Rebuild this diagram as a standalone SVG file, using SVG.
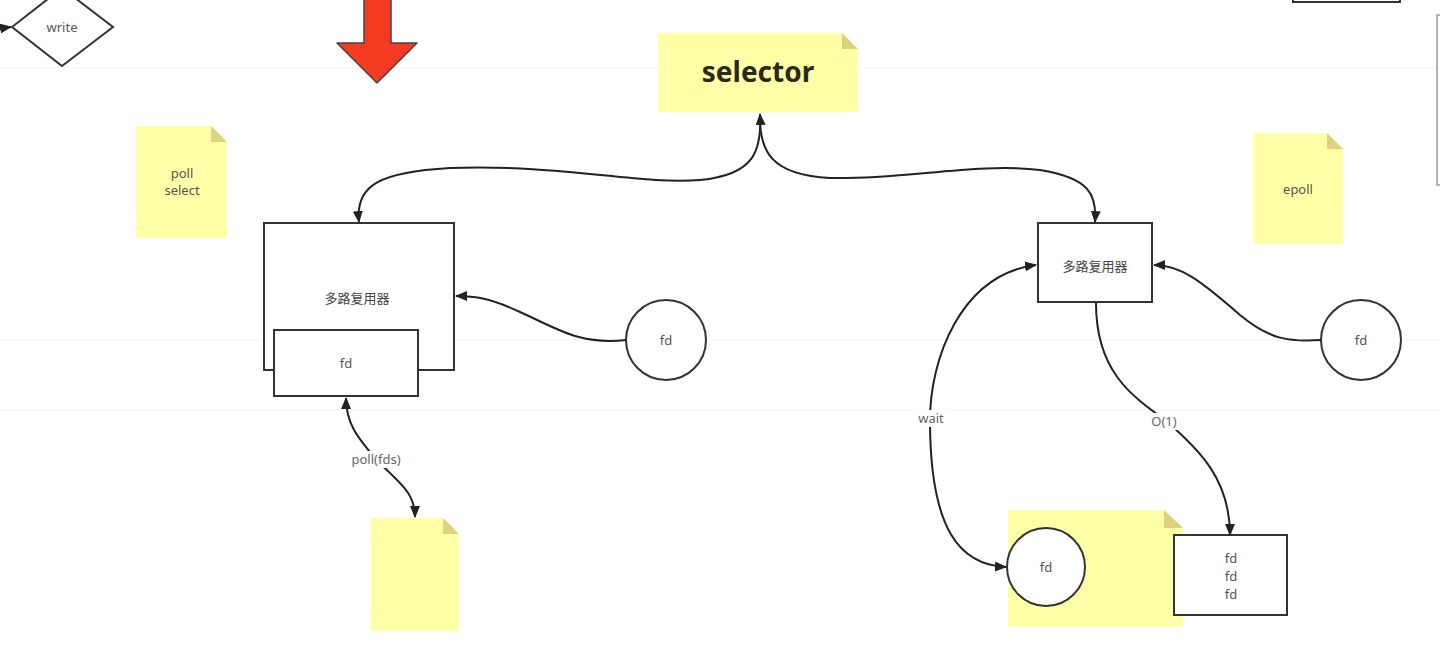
<svg xmlns="http://www.w3.org/2000/svg" width="1440" height="647" viewBox="0 0 1440 647">
<style>
.bg{fill:#ffffff}
.grid{stroke:#f4f4f4;stroke-width:1;fill:none}
.node{fill:#ffffff;stroke:#333333;stroke-width:2}
.note{fill:#ffffa8}
.fold{fill:#dcd37a}
.lbl{font-family:"Noto Sans","Noto Sans CJK SC",sans-serif;font-size:13px;fill:#555555;text-anchor:middle}
.cn{font-family:"Noto Sans CJK SC","Noto Sans",sans-serif;font-size:13px;fill:#444444;text-anchor:middle}
.big{font-family:"Noto Sans","Open Sans",sans-serif;font-size:28px;font-weight:bold;fill:#2a2a1a;text-anchor:middle}
.edge{fill:none;stroke:#222222;stroke-width:2}
.elbl{font-family:"Noto Sans",sans-serif;font-size:13px;fill:#666666;text-anchor:middle}
</style>
<defs>
<marker id="ah" viewBox="0 0 12 10" refX="11" refY="5" markerWidth="12" markerHeight="10" markerUnits="userSpaceOnUse" orient="auto-start-reverse">
<path d="M0,0 L12,5 L0,10 z" fill="#222222"/>
</marker>
</defs>
<rect class="bg" x="0" y="0" width="1440" height="647"/>
<g id="grid">
<line class="grid" x1="0" y1="68" x2="1440" y2="68"/>
<line class="grid" x1="0" y1="340" x2="1440" y2="340"/>
<line class="grid" x1="0" y1="410" x2="1440" y2="410"/>
</g>

<g id="write">
<polygon class="node" points="12,27 62,-12 113,27 62,66"/>
<text class="lbl" x="62" y="32">write</text>
</g>
<g id="red-arrow">
<polygon points="364,-2 391,-2 391,43 417,43 377,83 337,43 364,43" fill="#f53a22" stroke="#444" stroke-width="1.5" stroke-linejoin="round"/>
</g>
<g id="topright-box">
<rect x="1293" y="-30" width="107" height="32" fill="#fff" stroke="#333" stroke-width="2"/>
</g>
<g id="edge-right">
<rect x="1437" y="15" width="6" height="170" fill="#fff" stroke="#999" stroke-width="1.5"/>
</g>

<g id="selector">
<path class="note" d="M658,33 H842 L858,49 V112 H658 Z"/>
<path class="fold" d="M842,33 L858,49 H842 Z"/>
<text class="big" x="758" y="82">selector</text>
</g>
<g id="note-poll">
<path class="note" d="M136,126 H211 L227,142 V238 H136 Z"/>
<path class="fold" d="M211,126 L227,142 H211 Z"/>
<text class="lbl" x="182" y="178">poll</text>
<text class="lbl" x="182" y="195">select</text>
</g>
<g id="note-epoll">
<path class="note" d="M1253,133 H1327 L1343,149 V244 H1253 Z"/>
<path class="fold" d="M1327,133 L1343,149 H1327 Z"/>
<text class="lbl" x="1298" y="194">epoll</text>
</g>
<g id="note-blank">
<path class="note" d="M371,518 H443 L459,534 V631 H371 Z"/>
<path class="fold" d="M443,518 L459,534 H443 Z"/>
</g>
<g id="note-wait">
<path class="note" d="M1008,510 H1164 L1183,528 V627 H1008 Z"/>
<path class="fold" d="M1164,510 L1183,528 H1164 Z"/>
</g>

<g id="mux-left">
<rect class="node" x="264" y="223" width="190" height="147"/>
<text class="cn" x="357" y="303">多路复用器</text>
</g>
<g id="fd-inner">
<rect class="node" x="274" y="330" width="144" height="66"/>
<text class="lbl" x="346" y="368">fd</text>
</g>
<g id="fd-left">
<circle class="node" cx="666" cy="340" r="40"/>
<text class="lbl" x="666" y="345">fd</text>
</g>
<g id="mux-right">
<rect class="node" x="1038" y="223" width="114" height="79"/>
<text class="cn" x="1095" y="271">多路复用器</text>
</g>
<g id="fd-right">
<circle class="node" cx="1361" cy="340" r="40"/>
<text class="lbl" x="1361" y="345">fd</text>
</g>
<g id="fd-wait">
<circle class="node" cx="1046" cy="567" r="39"/>
<text class="lbl" x="1046" y="572">fd</text>
</g>
<g id="fd-list">
<rect class="node" x="1174" y="535" width="113" height="80"/>
<text class="lbl" x="1231" y="563">fd</text>
<text class="lbl" x="1231" y="581">fd</text>
<text class="lbl" x="1231" y="599">fd</text>
</g>

<g id="connectors">
<path class="edge" marker-end="url(#ah)" d="M-10,30 L11,27"/>
<path class="edge" marker-start="url(#ah)" marker-end="url(#ah)" d="M359,222 C355,185 380,172 450,168 C560,164 640,185 700,180 C755,175 762,150 760,114"/>
<path class="edge" marker-end="url(#ah)" d="M760,118 C760,150 770,175 830,178 C900,180 980,162 1040,170 C1090,178 1097,195 1095,222"/>
<path class="edge" marker-end="url(#ah)" d="M626,340 C580,345 560,330 520,312 C490,298 475,296 456,296"/>
<path class="edge" marker-end="url(#ah)" d="M1321,340 C1290,342 1270,340 1240,315 C1200,280 1180,265 1154,265"/>
<path class="edge" marker-start="url(#ah)" marker-end="url(#ah)" d="M1036,265 C960,275 930,360 930,420 C930,530 960,565 1006,567"/>
<path class="edge" marker-end="url(#ah)" d="M1096,303 C1096,370 1130,395 1165,420 C1200,450 1230,480 1230,535"/>
<path class="edge" marker-start="url(#ah)" marker-end="url(#ah)" d="M346,398 C346,425 360,440 375,458 C395,480 415,490 415,517"/>
<rect x="914" y="410" width="34" height="17" fill="#fff"/>
<text class="elbl" x="931" y="423">wait</text>
<rect x="1146" y="413" width="36" height="17" fill="#fff"/>
<text class="elbl" x="1164" y="426">O(1)</text>
<rect x="341" y="451" width="70" height="17" fill="#fff"/>
<text class="elbl" x="376" y="464">poll(fds)</text>
</g>
</svg>
